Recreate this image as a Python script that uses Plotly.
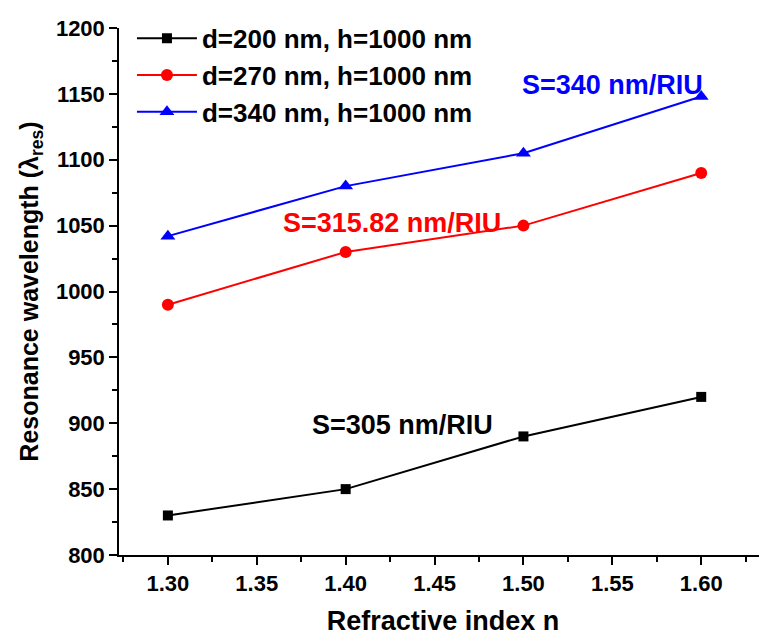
import plotly.graph_objects as go

n_values = [1.30, 1.40, 1.50, 1.60]
series_names = ["d=200 nm, h=1000 nm", "d=270 nm, h=1000 nm", "d=340 nm, h=1000 nm"]
wl_d200 = [830, 850, 890, 920]
wl_d270 = [990, 1030, 1050, 1090]
wl_d340 = [1042, 1080, 1105, 1148]
colors = ["#000000", "#ff0000", "#0000ff"]
symbols = ["square", "circle", "triangle-up"]
sizes = [10, 12, 13]
sens_labels = ["S=305 nm/RIU", "S=315.82 nm/RIU", "S=340 nm/RIU"]
sens_pos = [(1.432, 899), (1.426, 1052), (1.550, 1157)]
x_ticks = [1.30, 1.35, 1.40, 1.45, 1.50, 1.55, 1.60]
y_ticks = [800, 850, 900, 950, 1000, 1050, 1100, 1150, 1200]

FONT = "Liberation Sans, Arial, sans-serif"

fig = go.Figure()
for name, ys, c, s, sz in zip(series_names, [wl_d200, wl_d270, wl_d340], colors, symbols, sizes):
    fig.add_trace(go.Scatter(
        x=n_values, y=ys, name="<b>%s</b>" % name, mode="lines+markers",
        line=dict(color=c, width=2),
        marker=dict(symbol=s, size=sz, color=c),
    ))

for txt, (x, y), c in zip(sens_labels, sens_pos, colors):
    fig.add_annotation(x=x, y=y, text="<b>%s</b>" % txt, showarrow=False,
                       font=dict(family=FONT, size=27, color=c))

fig.update_layout(
    width=767, height=635,
    margin=dict(l=111, r=8, t=19, b=88),
    plot_bgcolor="white", paper_bgcolor="white",
    font=dict(family=FONT, color="black"),
    showlegend=True,
    legend=dict(x=0.02, y=1.023, xanchor="left", yanchor="top",
                bgcolor="rgba(0,0,0,0)", font=dict(family=FONT, size=26, color="black"),
                tracegroupgap=0, itemwidth=60),
    xaxis=dict(
        range=[1.2725, 1.637], tickmode="array",
        tickvals=x_ticks,
        ticktext=["<b>%.2f</b>" % v for v in x_ticks],
        ticks="outside", ticklen=8, tickwidth=1.5, tickcolor="black",
        minor=dict(ticks="outside", ticklen=5, dtick=0.025, tick0=1.275, tickcolor="black", tickwidth=1.5),
        showline=True, linecolor="black", linewidth=1.5, showgrid=False, zeroline=False,
        tickfont=dict(family=FONT, size=22, color="black"),
        automargin=False,
        title=dict(text="<b>Refractive index n</b>", font=dict(family=FONT, size=27, color="black"), standoff=16),
    ),
    yaxis=dict(
        range=[800, 1200], tickmode="array",
        tickvals=y_ticks,
        ticktext=["<b>%d</b>" % v for v in y_ticks],
        ticks="outside", ticklen=8, tickwidth=1.5, tickcolor="black",
        minor=dict(ticks="outside", ticklen=5, dtick=25, tick0=800, tickcolor="black", tickwidth=1.5),
        showline=True, linecolor="black", linewidth=1.5, showgrid=False, zeroline=False,
        tickfont=dict(family=FONT, size=22, color="black"),
        automargin=False,
        title=dict(text="<b>Resonance wavelength (λ<sub>res</sub>)</b>", font=dict(family=FONT, size=25, color="black"), standoff=10),
    ),
)

fig.write_html("out.html")
